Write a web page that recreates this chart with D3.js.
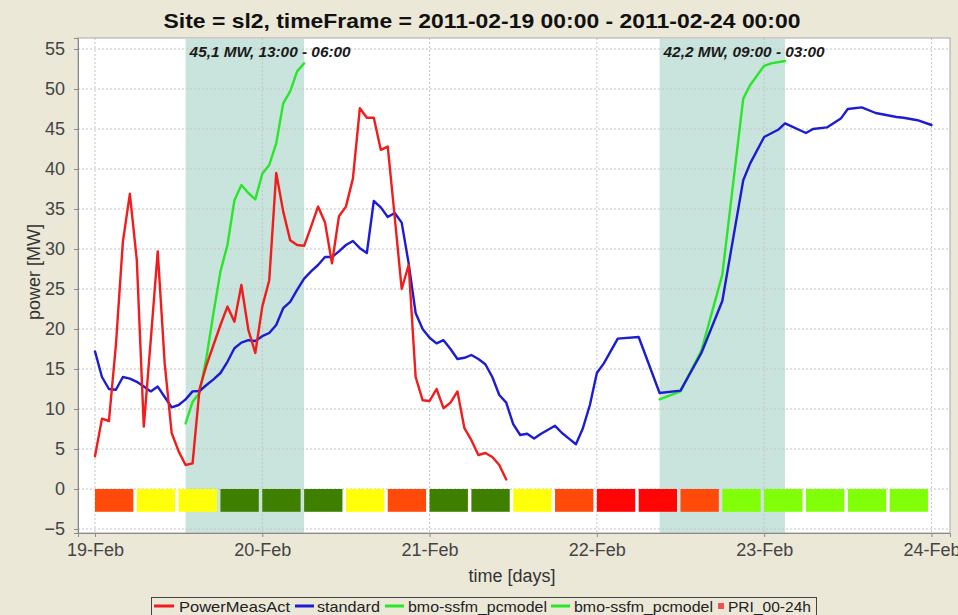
<!DOCTYPE html>
<html><head><meta charset="utf-8">
<script src="https://cdn.jsdelivr.net/npm/d3@7"></script>
<style>
html,body{margin:0;padding:0;background:#ebe8d8;}
svg{display:block;font-family:"Liberation Sans",Arial,sans-serif;}
</style></head>
<body><svg id="c" width="958" height="615"></svg>
<script>
// ---------- data ----------
const startTime = Date.UTC(2011, 1, 19, 0, 0);
const titleText = "Site = sl2, timeFrame = 2011-02-19 00:00 - 2011-02-24 00:00";
const yTicks = [-5, 0, 5, 10, 15, 20, 25, 30, 35, 40, 45, 50, 55];
const seriesNames = ["PowerMeasAct", "standard", "bmo-ssfm_pcmodel", "bmo-ssfm_pcmodel", "PRI_00-24h"];

// PowerMeasAct, hourly from 19-Feb 00:00
const redValues = [4.1, 8.8, 8.5, 18, 30.9, 36.9, 28.6, 7.8, 18.6, 29.7, 15.7, 7.0, 4.7, 3.0, 3.2,
  12.5, 15.5, 18, 20.5, 22.8, 20.9, 25.5, 19.9, 17.0, 22.8, 26.1, 39.5, 34.7, 31.1, 30.5,
  30.4, 32.8, 35.3, 33.3, 28.2, 34.1, 35.3, 38.8, 47.6, 46.4, 46.4, 42.4, 42.8, 34, 25.0,
  28.0, 14.0, 11.1, 11.0, 12.5, 10.1, 10.8, 12.2, 7.6, 6.1, 4.25, 4.5, 4.0, 3.0, 1.2];

// standard (hours after start, values)
const blueHours = [0,1,2,3,4,5,6,7,8,9,10,11,12,13,14,15,16,17,18,19,20,21,22,23,24,25,26,27,28,29,
  30,31,32,33,34,35,36,37,38,39,40,41,42,43,44,45,46,47,48,49,50,51,52,53,54,55,56,57,58,59,
  60,61,62,63,64,65,66,67,68,69,70,71,72,73,75,78,81,84,87,90,93,94,96,98,99,102,103,105,107,
  108,110,112,115,116,118,120];
const blueValues = [17.2,14.0,12.5,12.4,14.0,13.8,13.4,12.8,12.2,12.8,11.5,10.2,10.5,11.2,12.2,12.25,
  13,13.7,14.5,15.9,17.6,18.3,18.6,18.5,19.1,19.5,20.5,22.6,23.4,24.9,26.3,27.2,28.0,29.0,29.0,
  29.7,30.5,31.0,30.1,29.5,36.0,35.2,34.0,34.5,33.3,28.2,22.0,20.0,18.9,18.2,18.6,17.5,16.25,
  16.4,16.75,16.25,15.6,14.0,11.75,10.8,8.1,6.75,6.9,6.3,6.9,7.4,7.9,7.0,6.3,5.6,7.6,10.5,
  14.5,15.7,18.8,19.0,12.0,12.3,17.0,23.5,38.6,40.7,44.0,44.9,45.7,44.5,45.0,45.2,46.3,
  47.5,47.7,47.0,46.5,46.4,46.1,45.5];

// bmo-ssfm_pcmodel, window 1 (hours) and window 2
const green1Hours = [13,14,15,16,17,18,19,20,21,22,23,24,25,26,27,28,29,30];
const green1Values = [8.2,10.9,12,16.5,22,27.2,30.5,36.1,38,37,36.2,39.4,40.5,43.2,48.2,49.7,52.2,53.2];
const green2Hours = [81,84,87,90,93,94,96,97,99];
const green2Values = [11.2,12.2,17.3,26.8,48.8,50.5,52.9,53.2,53.5];

// highlighted windows (start hour, end hour, label)
const windowStart = [13, 81];
const windowEnd = [30, 99];
const windowLabels = ["45,1 MW, 13:00 - 06:00", "42,2 MW, 09:00 - 03:00"];

// PRI_00-24h, one class per 6-hour block
const priClasses = ["orange","yellow","yellow","dgreen","dgreen","dgreen","yellow","orange","dgreen","dgreen",
  "yellow","orange","red","red","orange","lgreen","lgreen","lgreen","lgreen","lgreen"];
const priColors = {orange:"#ff4a0a", yellow:"#ffff0a", dgreen:"#3e7f00", red:"#ff0505", lgreen:"#80ff08"};

// ---------- chart ----------
const H = 3600e3;
const t = h => new Date(startTime + h * H);
const svg = d3.select("#c");
const L = 78, R = 950, T = 38, B = 533;
const x = d3.scaleUtc().domain([t(-0.1016*24), t(5.111*24)]).range([L, R]);
const y = d3.scaleLinear().domain([-5.5, 56.375]).range([B, T]);

svg.append("rect").attr("width",958).attr("height",615).attr("fill","#ebe8d8");
svg.append("rect").attr("x",L).attr("y",T).attr("width",R-L).attr("height",B-T).attr("fill","#ffffff");

// shaded windows
svg.selectAll("rect.win").data(windowStart).enter().append("rect")
  .attr("x", (d)=>x(t(d))).attr("y", T+1)
  .attr("width", (d,i)=>x(t(windowEnd[i]))-x(t(d))).attr("height", B-T-1)
  .attr("fill","#c9e4dc");

// grid
const days = d3.utcDay.range(t(0), t(121));
svg.append("g").selectAll("line").data(yTicks).enter().append("line")
  .attr("x1",L).attr("x2",R).attr("y1",d=>y(d)).attr("y2",d=>y(d))
  .attr("stroke","#c4c4c4").attr("stroke-dasharray","2,2").attr("stroke-width",1);
svg.append("g").selectAll("line").data(days).enter().append("line")
  .attr("y1",T).attr("y2",B).attr("x1",d=>x(d)).attr("x2",d=>x(d))
  .attr("stroke","#c4c4c4").attr("stroke-dasharray","2,2").attr("stroke-width",1);

// PRI blocks
svg.append("g").selectAll("rect").data(priClasses).enter().append("rect")
  .attr("x",(d,i)=>x(t(i*6))).attr("width",(d,i)=>x(t(i*6+5.5))-x(t(i*6)))
  .attr("y", y(0)).attr("height", y(-2.85)-y(0))
  .attr("fill", d=>priColors[d]);

// lines
const line = d3.line().x(d=>x(t(d[0]))).y(d=>y(d[1]));
const g1 = green1Hours.map((h,i)=>[h, green1Values[i]]);
const g2 = green2Hours.map((h,i)=>[h, green2Values[i]]);
const bl = blueHours.map((h,i)=>[h, blueValues[i]]);
const rd = redValues.map((v,i)=>[i, v]);
const drawLine = (data, col) => svg.append("path").datum(data).attr("d", line)
  .attr("fill","none").attr("stroke",col).attr("stroke-width",2.4)
  .attr("stroke-linejoin","round").attr("stroke-linecap","round");
drawLine(g1, "#28e628");
drawLine(g2, "#28e628");
drawLine(bl, "#1c1cd2");
drawLine(rd, "#f21c1c");

// window labels
svg.selectAll("text.wl").data(windowLabels).enter().append("text")
  .attr("x",(d,i)=>x(t(windowStart[i]))+4).attr("y",57)
  .attr("font-size",14).attr("font-weight","bold").attr("font-style","italic")
  .attr("fill","#1a1a1a").attr("textLength",161).attr("lengthAdjust","spacingAndGlyphs").text(d=>d);

// plot border
svg.append("rect").attr("x",L).attr("y",T).attr("width",R-L).attr("height",B-T)
  .attr("fill","none").attr("stroke","#a8a8a8");

// axes
const ya = svg.append("g").attr("transform",`translate(${L},0)`)
  .call(d3.axisLeft(y).tickValues(yTicks).tickSize(4).tickPadding(9).tickFormat(d3.format("d")));
const xa = svg.append("g").attr("transform",`translate(0,${B})`)
  .call(d3.axisBottom(x).tickValues(days).tickSize(4).tickPadding(6).tickFormat(d3.utcFormat("%d-%b")));
[ya, xa].forEach(a => {
  a.select(".domain").attr("stroke","#8a8a8a");
  a.selectAll(".tick line").attr("stroke","#8a8a8a");
  a.selectAll(".tick text").attr("fill","#444").attr("font-size",18)
    .attr("font-family","'Liberation Sans',Arial,sans-serif");
});

// title and axis labels
svg.append("text").attr("x",482).attr("y",28).attr("text-anchor","middle")
  .attr("font-size",21).attr("font-weight","bold").attr("fill","#111")
  .attr("textLength",637).attr("lengthAdjust","spacingAndGlyphs").text(titleText);
svg.append("text").attr("x",512).attr("y",582).attr("text-anchor","middle")
  .attr("font-size",18).attr("fill","#333").text("time [days]");
svg.append("text").attr("transform","translate(40,272) rotate(-90)").attr("text-anchor","middle")
  .attr("font-size",18).attr("fill","#333").text("power [MW]");

// legend
const lg = svg.append("g");
lg.append("rect").attr("x",151.5).attr("y",597.5).attr("width",665).attr("height",30)
  .attr("fill","#ebe8d8").attr("stroke","#444");
const legLines = [[154,174,"#f21c1c"],[295,314,"#1c1cd2"],[385,404,"#28e628"],[551,570,"#28e628"]];
lg.selectAll("line").data(legLines).enter().append("line")
  .attr("x1",d=>d[0]).attr("x2",d=>d[1]).attr("y1",606).attr("y2",606)
  .attr("stroke",d=>d[2]).attr("stroke-width",3);
lg.append("rect").attr("x",718).attr("y",603).attr("width",6).attr("height",6).attr("fill","#f05050");
const legText = [[179,111],[317,63],[408,139],[574,139],[728,83]];
lg.selectAll("text").data(seriesNames).enter().append("text")
  .attr("x",(d,i)=>legText[i][0]).attr("y",612)
  .attr("font-size",15).attr("fill","#222")
  .attr("textLength",(d,i)=>legText[i][1]).attr("lengthAdjust","spacingAndGlyphs").text(d=>d);
</script></body></html>
